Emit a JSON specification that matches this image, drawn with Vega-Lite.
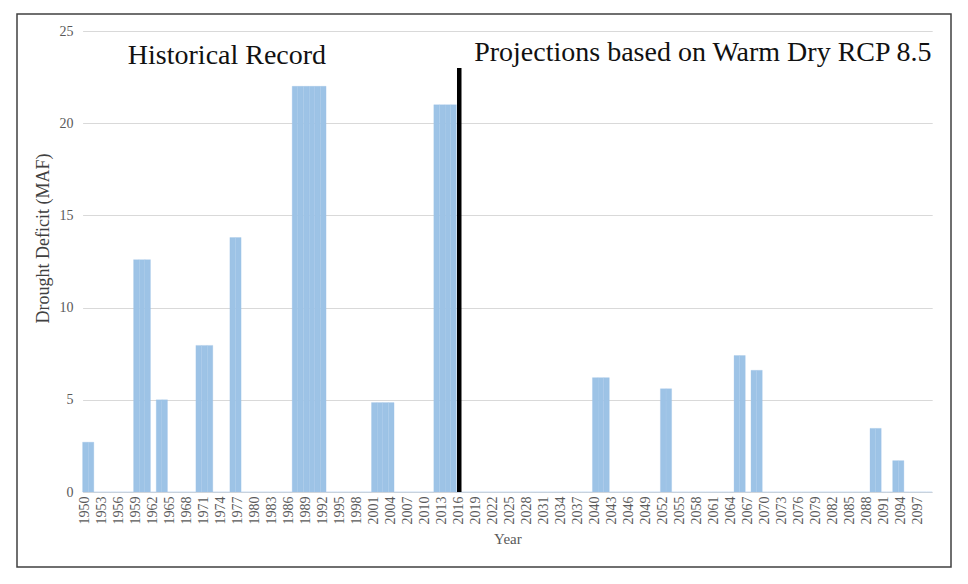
{
  "$schema": "https://vega.github.io/schema/vega-lite/v6.json",
  "width": 934,
  "height": 553,
  "autosize": {"type": "none"},
  "padding": {"left": 17, "top": 14, "right": 17, "bottom": 17},
  "background": "white",
  "config": {
    "view": {"stroke": "#404040", "strokeWidth": 1.5},
    "font": "Liberation Serif"
  },
  "layer": [
    {
      "data": {"values": [
        {"year":1950,"deficit":2.7},{"year":1951,"deficit":2.7},{"year":1952,"deficit":0},{"year":1953,"deficit":0},{"year":1954,"deficit":0},
        {"year":1955,"deficit":0},{"year":1956,"deficit":0},{"year":1957,"deficit":0},{"year":1958,"deficit":0},{"year":1959,"deficit":12.6},
        {"year":1960,"deficit":12.6},{"year":1961,"deficit":12.6},{"year":1962,"deficit":0},{"year":1963,"deficit":5.0},{"year":1964,"deficit":5.0},
        {"year":1965,"deficit":0},{"year":1966,"deficit":0},{"year":1967,"deficit":0},{"year":1968,"deficit":0},{"year":1969,"deficit":0},
        {"year":1970,"deficit":7.95},{"year":1971,"deficit":7.95},{"year":1972,"deficit":7.95},{"year":1973,"deficit":0},{"year":1974,"deficit":0},
        {"year":1975,"deficit":0},{"year":1976,"deficit":13.8},{"year":1977,"deficit":13.8},{"year":1978,"deficit":0},{"year":1979,"deficit":0},
        {"year":1980,"deficit":0},{"year":1981,"deficit":0},{"year":1982,"deficit":0},{"year":1983,"deficit":0},{"year":1984,"deficit":0},
        {"year":1985,"deficit":0},{"year":1986,"deficit":0},{"year":1987,"deficit":22.0},{"year":1988,"deficit":22.0},{"year":1989,"deficit":22.0},
        {"year":1990,"deficit":22.0},{"year":1991,"deficit":22.0},{"year":1992,"deficit":22.0},{"year":1993,"deficit":0},{"year":1994,"deficit":0},
        {"year":1995,"deficit":0},{"year":1996,"deficit":0},{"year":1997,"deficit":0},{"year":1998,"deficit":0},{"year":1999,"deficit":0},
        {"year":2000,"deficit":0},{"year":2001,"deficit":4.85},{"year":2002,"deficit":4.85},{"year":2003,"deficit":4.85},{"year":2004,"deficit":4.85},
        {"year":2005,"deficit":0},{"year":2006,"deficit":0},{"year":2007,"deficit":0},{"year":2008,"deficit":0},{"year":2009,"deficit":0},
        {"year":2010,"deficit":0},{"year":2011,"deficit":0},{"year":2012,"deficit":21.0},{"year":2013,"deficit":21.0},{"year":2014,"deficit":21.0},
        {"year":2015,"deficit":21.0},{"year":2016,"deficit":0},{"year":2017,"deficit":0},{"year":2018,"deficit":0},{"year":2019,"deficit":0},
        {"year":2020,"deficit":0},{"year":2021,"deficit":0},{"year":2022,"deficit":0},{"year":2023,"deficit":0},{"year":2024,"deficit":0},
        {"year":2025,"deficit":0},{"year":2026,"deficit":0},{"year":2027,"deficit":0},{"year":2028,"deficit":0},{"year":2029,"deficit":0},
        {"year":2030,"deficit":0},{"year":2031,"deficit":0},{"year":2032,"deficit":0},{"year":2033,"deficit":0},{"year":2034,"deficit":0},
        {"year":2035,"deficit":0},{"year":2036,"deficit":0},{"year":2037,"deficit":0},{"year":2038,"deficit":0},{"year":2039,"deficit":0},
        {"year":2040,"deficit":6.2},{"year":2041,"deficit":6.2},{"year":2042,"deficit":6.2},{"year":2043,"deficit":0},{"year":2044,"deficit":0},
        {"year":2045,"deficit":0},{"year":2046,"deficit":0},{"year":2047,"deficit":0},{"year":2048,"deficit":0},{"year":2049,"deficit":0},
        {"year":2050,"deficit":0},{"year":2051,"deficit":0},{"year":2052,"deficit":5.6},{"year":2053,"deficit":5.6},{"year":2054,"deficit":0},
        {"year":2055,"deficit":0},{"year":2056,"deficit":0},{"year":2057,"deficit":0},{"year":2058,"deficit":0},{"year":2059,"deficit":0},
        {"year":2060,"deficit":0},{"year":2061,"deficit":0},{"year":2062,"deficit":0},{"year":2063,"deficit":0},{"year":2064,"deficit":0},
        {"year":2065,"deficit":7.4},{"year":2066,"deficit":7.4},{"year":2067,"deficit":0},{"year":2068,"deficit":6.6},{"year":2069,"deficit":6.6},
        {"year":2070,"deficit":0},{"year":2071,"deficit":0},{"year":2072,"deficit":0},{"year":2073,"deficit":0},{"year":2074,"deficit":0},
        {"year":2075,"deficit":0},{"year":2076,"deficit":0},{"year":2077,"deficit":0},{"year":2078,"deficit":0},{"year":2079,"deficit":0},
        {"year":2080,"deficit":0},{"year":2081,"deficit":0},{"year":2082,"deficit":0},{"year":2083,"deficit":0},{"year":2084,"deficit":0},
        {"year":2085,"deficit":0},{"year":2086,"deficit":0},{"year":2087,"deficit":0},{"year":2088,"deficit":0},{"year":2089,"deficit":3.45},
        {"year":2090,"deficit":3.45},{"year":2091,"deficit":0},{"year":2092,"deficit":0},{"year":2093,"deficit":1.7},{"year":2094,"deficit":1.7},
        {"year":2095,"deficit":0},{"year":2096,"deficit":0},{"year":2097,"deficit":0},{"year":2098,"deficit":0},{"year":2099,"deficit":0}
      ]},
      "mark": {"type": "bar", "color": "#9DC3E6", "stroke": "#9DC3E6", "strokeWidth": 0.3},
      "encoding": {
        "x": {
          "field": "year",
          "type": "ordinal",
          "scale": {"range": [65.6, 915.2], "paddingInner": 0.02, "paddingOuter": 0},
          "axis": {
            "title": "Year",
            "values": [1950,1953,1956,1959,1962,1965,1968,1971,1974,1977,1980,1983,1986,1989,1992,1995,1998,2001,2004,2007,2010,2013,2016,2019,2022,2025,2028,2031,2034,2037,2040,2043,2046,2049,2052,2055,2058,2061,2064,2067,2070,2073,2076,2079,2082,2085,2088,2091,2094,2097],
            "labelAngle": -90,
            "labelFontSize": 14,
            "labelColor": "#595959",
            "labelPadding": 4,
            "labelOverlap": false,
            "labelBound": false,
            "labelFlush": false,
            "ticks": false,
            "domain": false,
            "grid": false,
            "offset": -75,
            "titleFontSize": 15,
            "titleFontWeight": "normal",
            "titleColor": "#595959",
            "titlePadding": 7
          }
        },
        "y": {
          "field": "deficit",
          "type": "quantitative",
          "scale": {"domain": [0, 25], "range": [478, 17], "nice": false, "zero": true},
          "axis": {
            "title": "Drought Deficit (MAF)",
            "values": [0, 5, 10, 15, 20, 25],
            "grid": true,
            "gridColor": "#d9d9d9",
            "gridWidth": 1,
            "domain": false,
            "ticks": false,
            "offset": -66,
            "labelPadding": 10,
            "labelFontSize": 14,
            "labelColor": "#595959",
            "labelOverlap": false,
            "titleFontSize": 18,
            "titleFontWeight": "normal",
            "titleColor": "#404040",
            "titlePadding": 7,
            "titleY": 224
          }
        }
      }
    },
    {
      "data": {"values": [{"year": 2016, "bottom": 0, "top": 23}]},
      "mark": {"type": "rule", "color": "black", "strokeWidth": 4.5},
      "encoding": {
        "x": {"field": "year", "type": "ordinal"},
        "y": {"field": "bottom", "type": "quantitative"},
        "y2": {"field": "top"}
      }
    },
    {
      "data": {"values": [
        {"year": 1975, "pos": 23.65, "label": "Historical Record"},
        {"year": 2059, "pos": 23.8, "label": "Projections based on Warm Dry RCP 8.5"}
      ]},
      "mark": {"type": "text", "fontSize": 28, "color": "#111111", "align": "center", "baseline": "middle", "font": "Liberation Serif"},
      "encoding": {
        "x": {"field": "year", "type": "ordinal"},
        "y": {"field": "pos", "type": "quantitative"},
        "text": {"field": "label"}
      }
    }
  ]
}
